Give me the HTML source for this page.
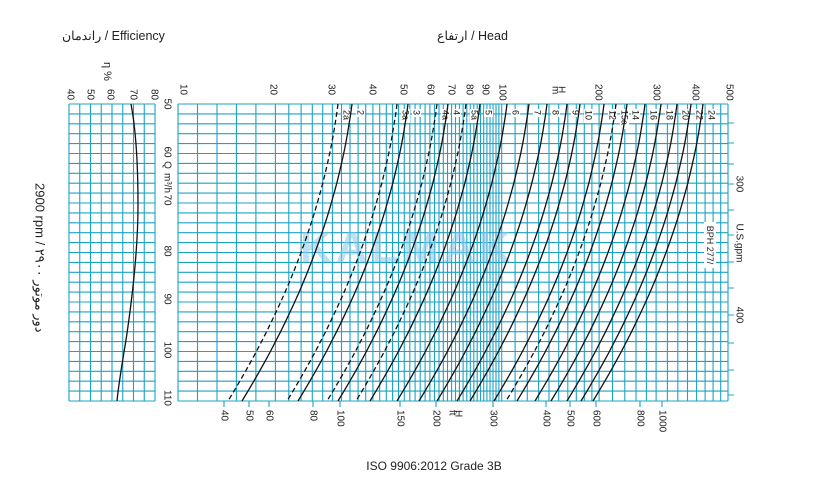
<!DOCTYPE html>
<html><head><meta charset="utf-8"><style>
html,body{margin:0;padding:0;background:#fff;width:814px;height:501px;overflow:hidden}
svg{display:block;font-family:"Liberation Sans","Noto Sans CJK SC",sans-serif}
</style></head><body>
<svg id="s" width="814" height="501" viewBox="0 0 814 501" xmlns="http://www.w3.org/2000/svg">
<text x="62" y="40" font-size="12.5" fill="#222">راندمان / Efficiency</text>
<text x="437" y="40" font-size="12.5" fill="#222">ارتفاع / Head</text>
<text x="434" y="470" font-size="12" fill="#222" text-anchor="middle">ISO 9906:2012 Grade 3B</text>
<text x="40" y="183" font-size="13" fill="#222" transform="rotate(90 40 183)" dominant-baseline="central">2900 rpm / ۲۹۰۰ دور موتور</text>
<text x="107" y="62" font-size="11" fill="#222" transform="rotate(90 107 62)" dominant-baseline="central">η %</text>
<g id="g"></g>
</svg>
<script>
(function(){
var NS="http://www.w3.org/2000/svg",g=document.getElementById('g');
function el(t,a,txt){var e=document.createElementNS(NS,t);for(var k in a)e.setAttribute(k,a[k]);if(txt!=null)e.textContent=txt;g.appendChild(e);return e;}
var C="#1ba3c6",T=104,B=401;
function X(h){return 178+323.7*Math.log10(h/10);}
function Y(q){return T+(q-50)*(B-T)/60;}
var d="";
// rows
for(var i=0;i<=30;i++){var y=T+i*(B-T)/30;d+="M69 "+y+"H155M178 "+y+"H728";}
// eff cols
for(i=0;i<=8;i++){var x=69+i*10.75;d+="M"+x+" "+T+"V"+B;}
// main cols
var xs=[];for(i=0;i<5;i++)xs.push(178+i*19.48);
for(var h=20;h<100;h+=2)xs.push(X(h));
for(h=100;h<200;h+=10)xs.push(X(h));
for(h=200;h<300;h+=20)xs.push(X(h));
for(h=300;h<=500;h+=25)xs.push(X(h));
xs.forEach(function(x){d+="M"+x.toFixed(1)+" "+T+"V"+B;});
// gpm ticks
[123,143,164,184,210,235,262,288,315,343,370,395].forEach(function(y){d+="M728 "+y+"H734";});
// ft ticks
var ft=[[224,"40"],[249,"50"],[269,"60"],[313,"80"],[340,"100"],[400,"150"],[436,"200"],[493,"300"],[546,"400"],[570,"500"],[596,"600"],[640,"800"],[662,"1000"]];
ft.forEach(function(f){d+="M"+f[0]+" "+B+"V407";});
el("path",{d:d,stroke:C,"stroke-width":"1.1",fill:"none"});
// watermark
el("text",{x:300,y:262,"font-size":"44","font-weight":"bold",fill:"#8cc8ea",opacity:"0.55","letter-spacing":"4"},"KALMAK");
// efficiency curve
el("path",{d:"M131 104C135 125 138 160 138 205C138 250 132 300 126 340C121 370 118 390 117 401",stroke:"#111","stroke-width":"1.3",fill:"none"});
// pump curves
var curves=[[338,"2a",1],[352,"2",0],[397,"3a",1],[408,"3",0],[437,"4a",1],[448,"4",0],[466,"5a",1],[480,"5",0],[507,"6",0],[529,"7",0],[547,"8",0],[567,"9",0],[580,"10",0],[604,"12",0],[616,"15a",1],[627,"14",0],[645,"16",0],[661,"18",0],[677,"20",0],[691,"22",0],[703,"24",0]];
curves.forEach(function(c){
 var p="";for(var q=50;q<=110.01;q+=2){var dq=q-50;var x=c[0]-0.02*dq*dq-0.633*dq;p+=(q==50?"M":"L")+x.toFixed(1)+" "+Y(q).toFixed(1);}
 var a={d:p,stroke:"#111","stroke-width":"1.3",fill:"none"};if(c[2])a["stroke-dasharray"]="5 3";
 el("path",a);
 var lx=c[0]+5,ly=110;
 el("rect",{x:lx-1,y:ly-1,width:9,height:c[1].length*6+2,fill:"#fff"});
 el("text",{x:lx+3.5,y:ly,"font-size":"9",fill:"#111",transform:"rotate(90 "+(lx+3.5)+" "+ly+")","dominant-baseline":"central"},c[1]);
});
function rt(x,y,s,fs,anchor){el("text",{x:x,y:y,"font-size":fs||10,fill:"#222","text-anchor":anchor||"start",transform:"rotate(90 "+x+" "+y+")","dominant-baseline":"central"},s);}
// top head labels
[[183,"10"],[273,"20"],[331,"30"],[372,"40"],[403,"50"],[430,"60"],[451,"70"],[469,"80"],[485,"90"],[502,"100"],[598,"200"],[656,"300"],[695,"400"],[729,"500"]].forEach(function(t){rt(t[0],84,t[1]);});
rt(561,86,"H",10);rt(555,86,"m",10);
// eff labels
[[70,"40"],[90,"50"],[110,"60"],[133,"70"],[154,"80"]].forEach(function(t){rt(t[0],89,t[1]);});
// Q labels
[[104,"50"],[152,"60"],[200,"70"],[251,"80"],[299,"90"],[350,"100"],[398,"110"]].forEach(function(t){rt(167,t[0],t[1],10,"middle");});
rt(167,165,"Q",10,"middle");rt(167,183,"m³/h",10,"middle");
// ft labels
ft.forEach(function(f){rt(f[0],410,f[1]);});
rt(458,410,"H",10);rt(452,410,"ft",10);
// gpm labels
rt(739,184,"300",10,"middle");rt(739,315,"400",10,"middle");rt(739,243,"U.S.gpm",10,"middle");
el("rect",{x:704,y:222,width:12,height:46,fill:"#fff"});
rt(710,245,"BPH 277/",9,"middle");
})();
</script>
</body></html>
